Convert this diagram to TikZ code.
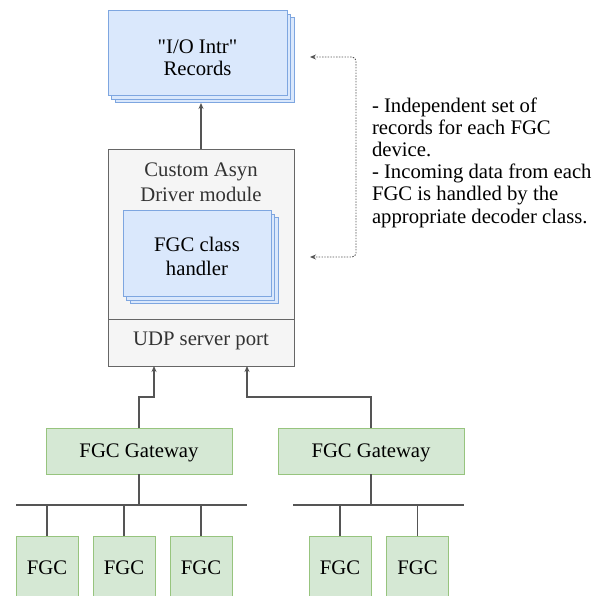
\documentclass[tikz,border=0pt]{standalone}
\usepackage{fontspec}
\setmainfont{Liberation Serif}[Ligatures=TeXOff]
\usetikzlibrary{arrows.meta}
\definecolor{bluefill}{HTML}{DAE8FC}
\definecolor{blueline}{HTML}{7EA6E0}
\definecolor{greenfill}{HTML}{D5E8D4}
\definecolor{greenline}{HTML}{97C47E}
\definecolor{grayfill}{HTML}{F5F5F5}
\definecolor{grayline}{HTML}{666666}
\definecolor{graytext}{HTML}{333333}
\definecolor{wire}{HTML}{555555}
\begin{document}
\begin{tikzpicture}[x=1pt,y=-1pt,
  every node/.style={font=\fontsize{20.7}{24}\selectfont, inner sep=0pt, outer sep=0pt},
  oneline/.style={text height=14.5pt, text depth=2.2pt},
  bluebox/.style={draw=blueline, fill=bluefill, line width=1pt, align=center},
  greenbox/.style={draw=greenline, fill=greenfill, line width=1pt, align=center, oneline},
  graybox/.style={draw=grayline, fill=grayfill, line width=0.8pt, text=graytext, align=center, oneline},
  wireline/.style={draw=wire, line width=1.1pt},
  arr/.style={wireline, -{Stealth[length=6pt,width=5pt]}},
  note/.style={draw=wire, dash pattern=on 1.4pt off 1.4pt, line width=0.9pt, rounded corners=4pt,
    {Stealth[length=6pt,width=5pt]}-{Stealth[length=6pt,width=5pt]}}
]
\useasboundingbox (0,0) rectangle (603,596);
\clip (0,0) rectangle (603,596);
\fill[white] (0,0) rectangle (603,596);

% "I/O Intr" records stack
\draw[bluebox] (115,18) rectangle (294,103);
\draw[bluebox] (111.5,14.5) rectangle (290.5,99.5);
\node[bluebox, minimum width=179, minimum height=85] (rec) at (197.5,53.5) {};
\node[align=center, font=\fontsize{20.7}{21.7}\selectfont] (rect) at (197.5,57.5) {"I/O Intr"\\Records};
\coordinate (rectip) at (201,103);

% Custom Asyn driver module
\node[graybox, minimum width=186, minimum height=170] (drv) at (201,234) {};
\node[graybox, minimum width=186, minimum height=47, text depth=8pt] (udp) at (201,342.5) {UDP server port};
\node[text=graytext, align=center, font=\fontsize{20.7}{25}\selectfont] (drvlabel) at (201,182) {Custom Asyn\\Driver module};

% FGC class handler stack
\draw[bluebox] (130,218) rectangle (278,304);
\draw[bluebox] (126.5,214.5) rectangle (274.5,300.5);
\node[bluebox, minimum width=148, minimum height=86] (hdl) at (197,254) {};
\node[align=center, font=\fontsize{20.7}{24}\selectfont] (hdlt) at (197,256) {FGC class\\handler};

\draw[arr] (drv.north) -- (rectip);

% Gateways
\node[greenbox, minimum width=186, minimum height=46] (g1) at (139,451) {FGC Gateway};
\node[greenbox, minimum width=186, minimum height=46] (g2) at (371,451) {FGC Gateway};

\coordinate (j1) at (154,397);
\coordinate (j2) at (247,397);
\draw[arr] (g1.north) |- (j1) -- (j1 |- udp.south);
\draw[arr] (g2.north) |- (j2) -- (j2 |- udp.south);

% Buses
\coordinate (b1l) at (16,505);
\coordinate (b1r) at (247,505);
\coordinate (b2l) at (293,505);
\coordinate (b2r) at (464,505);
\draw[wireline] (b1l) -- (b1r);
\draw[wireline] (b2l) -- (b2r);
\draw[wireline] (g1.south) -- (g1.south |- b1l);
\draw[wireline] (g2.south) -- (g2.south |- b2l);

% FGC devices
\node[greenbox, minimum width=62, minimum height=64] (f1) at (47,568) {FGC};
\node[greenbox, minimum width=62, minimum height=64] (f2) at (124,568) {FGC};
\node[greenbox, minimum width=62, minimum height=64] (f3) at (201,568) {FGC};
\node[greenbox, minimum width=62, minimum height=64] (f4) at (340,568) {FGC};
\node[greenbox, minimum width=62, minimum height=64] (f5) at (417.5,568) {FGC};
\foreach \f in {f1,f2,f3} \draw[wireline] (\f.north) -- (\f.north |- b1l);
\foreach \f in {f4,f5} \draw[wireline] (\f.north) -- (\f.north |- b2l);

% Note bracket
\coordinate (n1) at (310,57);
\coordinate (n2) at (310,257);
\coordinate (nc) at (356,157);
\draw[note] (n1) -- (n1 -| nc) -- (n2 -| nc) -- (n2);
\node[anchor=west, align=left, font=\fontsize{20.7}{22.2}\selectfont] (txt) at (372,162.5)
  {- Independent set of\\records for each FGC\\device.\\- Incoming data from each\\FGC is handled by the\\appropriate decoder class.};
\end{tikzpicture}
\end{document}
